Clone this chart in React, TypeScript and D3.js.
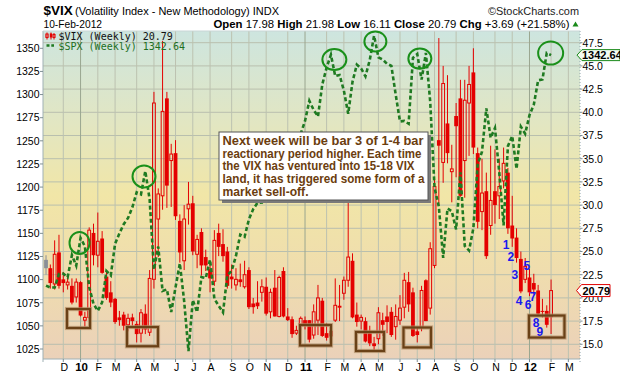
import React from 'react';
import * as d3 from 'd3';

// ---- data (weekly, first bar = week ending 13-Nov-2009) ----
const spxClose = [
  1093.48, 1091.38, 1091.49, 1105.98, 1106.41, 1102.47, 1126.48, 1115.10,
  1144.98, 1136.03, 1091.76, 1073.87, 1066.19, 1075.51, 1109.17, 1104.49, 1138.70, 1149.99, 1159.90, 1166.59, 1178.10, 1194.37, 1192.13, 1217.28, 1186.69, 1110.88, 1135.68, 1087.69, 1089.41, 1064.88, 1091.60, 1117.51, 1076.76, 1022.58, 1077.96, 1064.88, 1102.66, 1101.60, 1121.64, 1079.25, 1071.69, 1064.59, 1104.51, 1109.55, 1125.59, 1148.67, 1146.24, 1165.15, 1176.19, 1183.08, 1183.26, 1225.85, 1199.21, 1199.73, 1189.40, 1224.71, 1240.40, 1243.91, 1256.77, 1257.64,
  1271.50, 1293.24, 1283.35, 1276.34, 1310.87, 1329.15, 1343.01, 1319.88, 1321.15, 1304.28, 1279.20, 1313.80, 1332.41, 1328.17, 1319.68, 1337.38, 1363.61, 1340.20, 1337.77, 1333.27, 1331.10, 1300.16, 1270.98, 1271.50, 1268.45, 1339.67, 1343.80, 1316.14, 1345.02, 1292.28, 1199.38, 1178.81, 1123.53, 1176.80, 1173.97, 1154.23, 1216.01, 1136.43, 1131.42, 1155.46, 1224.58, 1238.25, 1285.09, 1253.23, 1263.85, 1215.65, 1158.67, 1244.28, 1255.19, 1219.66, 1265.33, 1257.60,
  1277.81, 1289.09, 1315.38, 1316.33, 1344.90, 1342.64,
];

const vixOpen = [
  24.1, 23.2, 21.5, 24.9, 22.0, 21.4, 21.3, 20.1,
  21.7, 17.6, 17.9, 27.0, 24.6, 26.4, 22.3, 20.6, 19.9, 17.9, 18.2, 17.1, 17.9, 17.2, 16.2, 18.3, 16.3, 22.0, 28.5, 31.0, 41.5, 34.8, 35.6, 28.3, 24.0, 29.6, 30.2, 24.7, 27.1, 24.4, 23.1, 21.8, 27.0, 25.8, 25.0, 22.3, 21.4, 22.0, 21.2, 23.0, 19.4, 19.5, 20.6, 21.2, 18.5, 21.1, 18.0, 22.9, 18.0, 17.7, 16.2, 17.0,
  17.6, 17.6, 16.0, 17.6, 19.7, 16.2, 15.9, 17.6, 19.0, 20.5, 21.9, 24.0, 18.2, 17.5, 17.5, 16.2, 15.1, 15.6, 17.6, 18.0, 18.5, 16.9, 17.6, 19.0, 21.7, 20.6, 16.4, 16.8, 21.9, 18.9, 23.5, 37.0, 34.6, 38.8, 33.6, 39.6, 41.5, 34.8, 41.0, 44.3, 35.6, 29.3, 31.5, 27.8, 31.5, 31.0, 32.6, 33.5, 27.8, 26.5, 24.2, 22.0,
  22.2, 21.6, 20.8, 18.6, 18.6, 17.98,
];
const vixHigh = [
  24.6, 23.6, 26.2, 26.8, 22.8, 22.5, 22.1, 22.1,
  21.8, 18.5, 27.6, 28.0, 29.2, 27.2, 23.0, 21.8, 20.0, 18.6, 18.5, 18.3, 18.3, 17.5, 18.8, 19.3, 23.0, 42.2, 31.8, 47.7, 42.2, 36.6, 37.0, 29.0, 30.0, 32.5, 31.0, 26.8, 27.5, 25.2, 24.0, 27.3, 28.0, 27.4, 25.5, 23.6, 23.2, 23.7, 24.0, 23.3, 20.0, 21.8, 22.0, 22.2, 21.0, 23.0, 22.4, 23.3, 18.9, 18.0, 17.0, 18.0,
  18.0, 17.6, 19.3, 21.4, 20.0, 17.3, 16.9, 22.1, 21.4, 22.3, 31.3, 24.8, 19.5, 18.2, 17.9, 17.0, 15.8, 19.0, 18.4, 19.2, 19.0, 19.3, 20.3, 22.7, 22.8, 21.1, 16.8, 21.3, 22.0, 26.0, 33.0, 48.0, 45.0, 44.0, 36.5, 41.0, 43.5, 43.5, 45.0, 46.9, 36.2, 35.0, 33.5, 36.4, 36.0, 35.0, 36.2, 34.0, 31.0, 27.5, 25.0, 24.3,
  23.1, 22.6, 21.4, 19.9, 19.2, 21.98,
];
const vixLow = [
  22.5, 21.0, 20.9, 21.0, 20.6, 20.9, 19.3, 19.5,
  18.0, 16.9, 17.7, 23.5, 23.3, 22.6, 19.8, 19.0, 17.2, 17.0, 16.5, 16.4, 17.0, 15.2, 15.2, 16.1, 15.9, 21.0, 24.4, 29.5, 29.7, 29.8, 28.4, 23.8, 23.0, 27.9, 24.6, 23.2, 22.4, 22.9, 20.6, 21.3, 24.5, 23.9, 21.0, 21.0, 20.8, 21.2, 21.0, 18.8, 18.3, 18.8, 19.6, 18.1, 17.8, 18.0, 17.9, 17.9, 17.5, 15.7, 16.0, 16.5,
  16.6, 15.2, 15.6, 16.0, 15.8, 15.4, 15.3, 17.4, 17.5, 19.8, 21.2, 17.8, 16.9, 16.6, 15.2, 14.8, 14.3, 15.0, 15.9, 16.2, 15.8, 15.5, 17.1, 17.8, 18.5, 15.8, 15.2, 16.4, 17.5, 18.2, 23.2, 30.0, 32.4, 34.5, 30.3, 33.0, 30.9, 30.8, 35.3, 35.5, 27.5, 27.3, 24.2, 26.8, 28.0, 28.5, 31.8, 26.9, 25.5, 23.8, 20.5, 21.6,
  20.2, 20.3, 18.2, 17.9, 16.8, 16.11,
];
const vixClose = [
  23.2, 21.6, 24.7, 21.3, 21.6, 21.7, 19.5, 21.7,
  18.1, 17.9, 27.3, 24.6, 26.1, 22.7, 20.0, 19.5, 17.4, 17.6, 17.0, 17.8, 17.5, 16.1, 18.4, 16.6, 22.1, 41.0, 31.2, 40.1, 32.1, 35.5, 28.8, 24.9, 28.5, 30.1, 25.0, 26.3, 23.5, 23.5, 22.1, 26.2, 25.5, 24.5, 21.3, 22.0, 22.0, 21.7, 22.5, 19.0, 19.0, 19.1, 21.2, 18.3, 20.6, 18.0, 22.2, 18.0, 17.6, 16.1, 16.5, 17.8,
  17.1, 15.5, 18.5, 20.0, 15.9, 15.7, 16.4, 19.2, 19.1, 21.9, 24.4, 17.9, 17.4, 17.9, 15.3, 15.1, 14.8, 18.4, 17.1, 17.4, 16.0, 18.0, 18.9, 21.9, 19.3, 15.9, 16.0, 20.8, 17.5, 25.3, 32.0, 36.4, 43.1, 35.6, 33.9, 38.5, 31.0, 41.3, 43.0, 36.2, 28.2, 31.3, 24.5, 30.5, 30.0, 32.0, 34.5, 27.5, 26.4, 24.3, 20.7, 23.4,
  20.6, 20.9, 18.3, 18.5, 17.1, 20.79,
];

const spxTicks = [1025, 1050, 1075, 1100, 1125, 1150, 1175, 1200, 1225, 1250, 1275, 1300, 1325, 1350];
const vixTicks = [15, 17.5, 20, 22.5, 25, 27.5, 30, 32.5, 35, 37.5, 40, 42.5, 45, 47.5];
const monthLetters = ['J', 'F', 'M', 'A', 'M', 'J', 'J', 'A', 'S', 'O', 'N', 'D'];

const noteLines = [
  'Next week will be bar 3 of 1-4 bar',
  'reactionary period higher. Each time',
  'the VIX has ventured into 15-18 VIX',
  'land, it has triggered some form of a',
  'market sell-off.',
];
const noteWidths = [201, 199, 192, 202, 86];

// green circles around SPX peaks: bar index, SPX level, radii
const circleIdx = [7.76, 22.7, 66.8, 76.3, 86.6, 116.9];
const circleSpx = [1139.6, 1211.4, 1337.8, 1357.4, 1338.9, 1344.9];
const circleRx = [10, 11.5, 12, 11, 11.5, 12.5];
const circleRy = [11, 11, 10.5, 10, 10, 11.5];

// brown boxes around VIX lows: bar index range, VIX range
const boxI0 = [4.86, 18.76, 58.84, 71.81, 82.81, 111.88];
const boxI1 = [10.19, 25.94, 66.02, 78.30, 89.18, 120.1];
const boxV0 = [18.8, 16.86, 17.08, 16.33, 16.81, 18.1];
const boxV1 = [16.76, 14.79, 14.87, 14.28, 14.66, 15.73];

// blue bar counts
const countText = ['1', '2', '3', '4', '5', '6', '7', '8', '9'];
const countIdx = [106.6, 107.7, 108.6, 109.6, 111.4, 111.7, 112.8, 113.5, 114.4];
const countVix = [25.8, 24.5, 22.5, 19.7, 23.5, 19.3, 20.2, 17.3, 16.4];

const L = 43, R = 580, T = 31, B = 359;
const RED = '#e40000';
const FONT = 'Liberation Sans, Arial, Helvetica, sans-serif';

export default function App() {
  const x = d3.scaleLinear().domain([-0.7, 123.7]).range([L, R]);
  const yV = d3.scaleLinear().domain([15, 47.5]).range([344.3, 42.7]);
  const yS = d3.scaleLinear().domain([1025, 1350]).range([349, 48.3]);

  const start = new Date(2009, 10, 13);
  const months: { i: number; m: number; y: number }[] = [];
  for (let i = 1; i < 124; i++) {
    const mon = d3.timeDay.offset(start, 7 * i - 4);
    const prev = d3.timeDay.offset(start, 7 * (i - 1) - 4);
    if (mon.getMonth() !== prev.getMonth()) months.push({ i, m: mon.getMonth(), y: mon.getFullYear() });
  }

  const spxLine = d3
    .line<number>()
    .x((_, i) => x(i))
    .y((d) => yS(d))(spxClose) as string;

  const candles = vixClose.map((c, i) => {
    const o = vixOpen[i], h = vixHigh[i], l = vixLow[i];
    const cx = x(i);
    if (i === 0) {
      return (
        <g key={i}>
          <line x1={cx} x2={cx} y1={yV(h)} y2={yV(l)} stroke="#8a8f98" strokeWidth={1} />
          <rect x={cx - 1.9} y={yV(o)} width={3.8} height={yV(c) - yV(o)} fill="#8a8f98" />
        </g>
      );
    }
    if (c < o) {
      return (
        <g key={i}>
          <line x1={cx} x2={cx} y1={yV(h)} y2={yV(l)} stroke={RED} strokeWidth={1} />
          <rect x={cx - 1.9} y={yV(o)} width={3.8} height={Math.max(1, yV(c) - yV(o))} fill={RED} />
        </g>
      );
    }
    const top = yV(c), bot = yV(o);
    return (
      <g key={i}>
        <line x1={cx} x2={cx} y1={yV(h)} y2={top} stroke={RED} strokeWidth={1} />
        <line x1={cx} x2={cx} y1={bot} y2={yV(l)} stroke={RED} strokeWidth={1} />
        <rect x={cx - 1.4} y={top} width={2.8} height={Math.max(0.8, bot - top)} fill="none" stroke={RED} strokeWidth={1} />
      </g>
    );
  });

  const spxLast = spxClose[spxClose.length - 1];
  const vixLast = vixClose[vixClose.length - 1];
  const ySpxLast = yS(spxLast);
  const yVixLast = yV(vixLast);

  return (
    <svg
      width={620}
      height={376}
      viewBox="0 0 620 376"
      style={{ position: 'fixed', left: 0, top: 0, display: 'block', background: '#fff' }}
      fontFamily={FONT}
    >
      <defs>
        <linearGradient id="bg" x1="0" y1="0" x2="0" y2="1">
          <stop offset="0" stopColor="#cde5df" />
          <stop offset="0.28" stopColor="#e2e6c2" />
          <stop offset="0.5" stopColor="#f1e6a7" />
          <stop offset="0.75" stopColor="#efdcae" />
          <stop offset="1" stopColor="#ebd1b9" />
        </linearGradient>
        <clipPath id="plot">
          <rect x={L} y={T} width={R - L} height={B - T} />
        </clipPath>
      </defs>

      {/* header */}
      <text x={43.5} y={15} fontSize={13.5} fontWeight="bold" fill="#000">$VIX</text>
      <text x={75} y={14.5} fontSize={11} fill="#000" textLength={204} lengthAdjust="spacingAndGlyphs">
        (Volatility Index - New Methodology) INDX
      </text>
      <text x={579} y={14.5} fontSize={11} fill="#222" textAnchor="end" textLength={91} lengthAdjust="spacingAndGlyphs">
        ©StockCharts.com
      </text>
      <text x={43.5} y={27.5} fontSize={11} fill="#000" textLength={58.5} lengthAdjust="spacingAndGlyphs">10-Feb-2012</text>
      <text x={213.5} y={27.5} fontSize={11} fill="#000" textLength={356} lengthAdjust="spacingAndGlyphs">
        <tspan fontWeight="bold">Open</tspan> 17.98 <tspan fontWeight="bold">High</tspan> 21.98{' '}
        <tspan fontWeight="bold">Low</tspan> 16.11 <tspan fontWeight="bold">Close</tspan> 20.79{' '}
        <tspan fontWeight="bold">Chg</tspan> +3.69 (+21.58%)
      </text>
      <path d="M572.5,26.5 L575.5,21.5 L578.5,26.5 Z" fill="#1a8a1a" />

      {/* plot background */}
      <rect x={L} y={T} width={R - L} height={B - T} fill="url(#bg)" />

      {/* grid */}
      <g clipPath="url(#plot)">
        {vixTicks.map((t) => (
          <line key={'h' + t} x1={L} x2={R} y1={yV(t)} y2={yV(t)} stroke="#b9bfae" strokeWidth={1} />
        ))}
        {months.map((m) => (
          <line
            key={'v' + m.i}
            x1={x(m.i)}
            x2={x(m.i)}
            y1={T}
            y2={B}
            stroke={m.m === 0 ? '#9aa690' : '#bcc2b0'}
            strokeWidth={1}
          />
        ))}
      </g>

      {/* axes frame */}
      <line x1={L} x2={L} y1={T} y2={B + 3} stroke="#9fb0b4" strokeWidth={1} />
      <line x1={R} x2={R} y1={T} y2={B + 3} stroke="#8fa4ac" strokeWidth={1} strokeDasharray="1 2" />
      <line x1={L} x2={R} y1={B} y2={B} stroke="#9fb0b4" strokeWidth={1} />
      <line x1={L} x2={R} y1={T} y2={T} stroke="#c9d6d6" strokeWidth={1} />

      {/* left axis (SPX) */}
      {spxTicks.map((t) => (
        <g key={'ls' + t}>
          <line x1={L - 3} x2={L} y1={yS(t)} y2={yS(t)} stroke="#7f8f94" />
          <text x={39.5} y={yS(t) + 3.8} fontSize={10.5} textAnchor="end" fill="#000">{t}</text>
        </g>
      ))}

      {/* right axis (VIX) */}
      {vixTicks.map((t) => (
        <g key={'rs' + t}>
          <line x1={R} x2={R + 2.5} y1={yV(t)} y2={yV(t)} stroke="#7f8f94" />
          <text x={582.5} y={yV(t) + 3.8} fontSize={10.5} fill="#000">{t.toFixed(1)}</text>
        </g>
      ))}

      {/* bottom axis */}
      {months.map((m) => (
        <g key={'bm' + m.i}>
          <line x1={x(m.i)} x2={x(m.i)} y1={B} y2={B + 3} stroke="#7f8f94" />
          <text
            x={x(m.i) + 1}
            y={370.5}
            fontSize={m.m === 0 ? 11.5 : 10.5}
            fontWeight={m.m === 0 ? 'bold' : 'normal'}
            textAnchor="middle"
            fill="#000"
          >
            {m.m === 0 ? String(m.y).slice(2) : monthLetters[m.m]}
          </text>
        </g>
      ))}

      {/* price data */}
      <g clipPath="url(#plot)">
        {candles}
        <path d={spxLine} fill="none" stroke="#1f7a22" strokeWidth={2.6} strokeDasharray="4 2.6" />
      </g>

      {/* green circles */}
      {circleIdx.map((ci, k) => (
        <ellipse
          key={'c' + k}
          cx={x(ci)}
          cy={yS(circleSpx[k])}
          rx={circleRx[k]}
          ry={circleRy[k]}
          fill="none"
          stroke="#1a901a"
          strokeWidth={2}
        />
      ))}

      {/* brown boxes */}
      {boxI0.map((b, k) => {
        const x0 = x(b), x1 = x(boxI1[k]);
        const y0 = yV(boxV0[k]), y1 = yV(boxV1[k]);
        return (
          <g key={'b' + k}>
            <rect x={x0} y={y0} width={x1 - x0} height={y1 - y0} fill="none" stroke="#b08d66" strokeOpacity={0.7} strokeWidth={4.2} />
            <rect x={x0} y={y0} width={x1 - x0} height={y1 - y0} fill="none" stroke="#6a4117" strokeWidth={2.2} />
          </g>
        );
      })}

      {/* blue counts */}
      {countText.map((t, k) => (
        <text
          key={'n' + k}
          x={x(countIdx[k])}
          y={yV(countVix[k]) + 4.5}
          fontSize={12}
          fontWeight="bold"
          fill="#1a1aee"
          textAnchor="middle"
        >
          {t}
        </text>
      ))}

      {/* note box */}
      <rect x={222} y={135} width={209} height={68} fill="#7a7a7a" />
      <rect x={219} y={132} width={209} height={68} fill="#fff" stroke="#555" strokeWidth={1} />
      {noteLines.map((ln, k) => (
        <text
          key={'t' + k}
          x={222.5}
          y={145 + k * 12.7}
          fontSize={12}
          fontWeight="bold"
          fill="#6b3d0e"
          textLength={noteWidths[k]}
          lengthAdjust="spacingAndGlyphs"
        >
          {ln}
        </text>
      ))}

      {/* legend */}
      <g>
        <line x1={47} x2={47} y1={32.5} y2={39.5} stroke={RED} />
        <rect x={45.8} y={34} width={2.4} height={3.5} fill="none" stroke={RED} strokeWidth={0.9} />
        <line x1={51} x2={51} y1={32.5} y2={39.5} stroke={RED} />
        <rect x={49.8} y={33.5} width={2.4} height={4} fill={RED} />
        <line x1={54} x2={54} y1={33} y2={39.5} stroke={RED} />
        <rect x={52.9} y={34.5} width={2.2} height={3} fill="none" stroke={RED} strokeWidth={0.9} />
        <text x={58.5} y={40} fontSize={10} fontFamily="DejaVu Sans Mono, monospace" fill="#111">
          $VIX (Weekly) 20.79
        </text>
        <line x1={46.5} x2={54} y1={45.5} y2={45.5} stroke="#1f7a22" strokeWidth={2.4} strokeDasharray="3 1.8" />
        <text x={58.5} y={49.5} fontSize={10} fontFamily="DejaVu Sans Mono, monospace" fill="#1f6f1f">
          $SPX (Weekly) 1342.64
        </text>
      </g>

      {/* last value tags */}
      <path
        d={`M577,${ySpxLast} L582,${ySpxLast - 5.5} L620,${ySpxLast - 5.5} L620,${ySpxLast + 5.5} L582,${ySpxLast + 5.5} Z`}
        fill="#f4fbf2"
        stroke="#1a8a1a"
        strokeWidth={1}
      />
      <text x={582} y={ySpxLast + 4} fontSize={11} fontWeight="bold" fill="#000">{spxLast.toFixed(2)}</text>
      <path
        d={`M576.5,${yVixLast} L581.5,${yVixLast - 6} L610,${yVixLast - 6} L610,${yVixLast + 6} L581.5,${yVixLast + 6} Z`}
        fill="#fff"
        stroke="#e00000"
        strokeWidth={1}
      />
      <text x={582.5} y={yVixLast + 4} fontSize={11} fontWeight="bold" fill="#000">{vixLast.toFixed(2)}</text>
    </svg>
  );
}
